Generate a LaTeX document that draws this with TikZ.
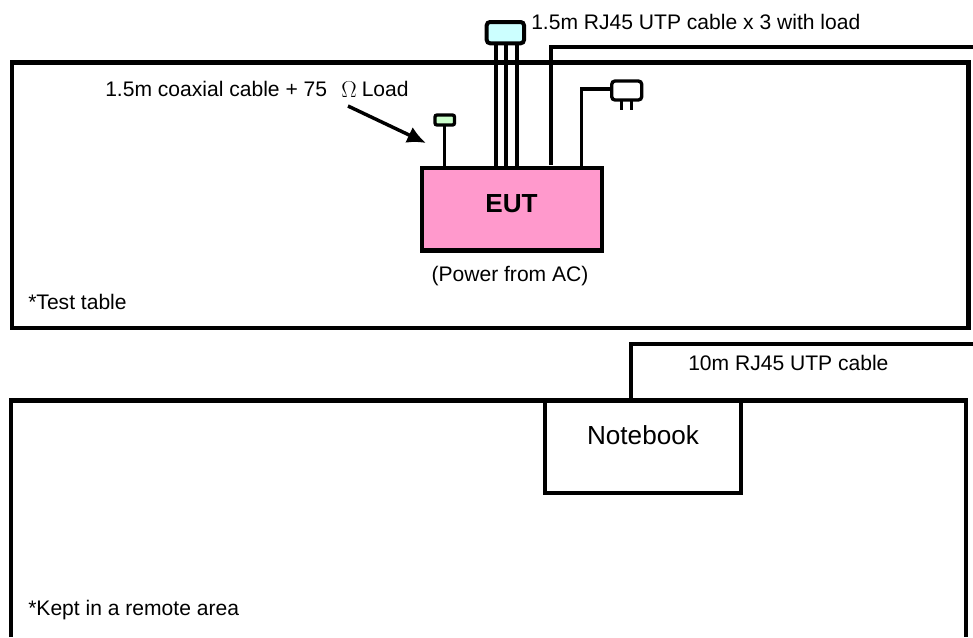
\documentclass[tikz,border=0pt]{standalone}
\usepackage{amsmath}
\usepackage{amssymb}
\usepackage{fontspec}
\setmainfont{Liberation Sans}
\usetikzlibrary{arrows.meta}
\tikzset{
  heavy/.style={line width=3.2pt, inner sep=0pt, outer sep=0pt},
  wire/.style={line width=3pt},
  thinwire/.style={line width=2.5pt},
  plugbox/.style={draw, inner sep=0pt, outer sep=0pt, anchor=north west},
  lbl/.style={inner sep=0pt, font=\fontsize{15.8pt}{18pt}\selectfont},
  biglbl/.style={inner sep=0pt, font=\fontsize{19.6pt}{22pt}\selectfont},
}
\begin{document}
\begin{tikzpicture}[x=0.75pt, y=-0.75pt]
    \useasboundingbox (0, 0) rectangle (973, 637);

    % tables
    \node[draw, heavy, minimum width=956.2pt*0.75, minimum height=265.6pt*0.75, anchor=north west] (testtable) at (12.3, 62.4) {};
    \coordinate (remotel) at (11.2, 637);
    \coordinate (remoter) at (966, 637);
    \draw[heavy] (remotel) -- (11.2, 400.5) -- (966, 400.5) -- (remoter);

    % EUT and notebook
    \node[draw, heavy, fill={rgb,255:red,255;green,153;blue,204}, minimum width=179.7pt*0.75, minimum height=82.2pt*0.75, anchor=north west] (eut) at (422, 168.3) {};
    \node[biglbl, font=\bfseries\fontsize{19.6pt}{22pt}\selectfont] (euttext) at (511.5, 204) {EUT};
    \node[draw, heavy, fill=white, minimum width=196.6pt*0.75, minimum height=92.5pt*0.75, anchor=north west] (notebook) at (544.7, 400.5) {};
    \node[biglbl] (nbtext) at (643, 435) {Notebook};

    % loads
    \node[plugbox, wire, rounded corners=2.5pt, fill={rgb,255:red,204;green,255;blue,255}, minimum width=37.3pt*0.75, minimum height=21.3pt*0.75] (hub) at (486.7, 22) {};
    \node[plugbox, thinwire, rounded corners=1.5pt, fill={rgb,255:red,204;green,255;blue,204}, minimum width=19.5pt*0.75, minimum height=10pt*0.75] (coax) at (435, 115) {};
    \node[plugbox, thinwire, rounded corners=2.5pt, fill=white, minimum width=30pt*0.75, minimum height=19pt*0.75] (plug) at (611.7, 81) {};

    % cables
    \foreach \x in {496.3, 506.3, 516.7}
      \draw[wire] (\x, 0 |- hub.south) -- (\x, 0 |- eut.north);
    \coordinate (rjend) at (550.7, 165);
    \coordinate (rjout) at (973, 46.7);
    \draw[wire] (rjend) -- (rjend |- rjout) -- (rjout);
    \coordinate (lanout) at (973, 344);
    \coordinate (lanin) at (631, 400.5);
    \draw[wire] (lanin) -- (lanin |- lanout) -- (lanout);
    \draw[thinwire] (coax.south) -- (coax.south |- eut.north);
    \coordinate (pwr) at (581.7, 89);
    \draw[thinwire] (pwr |- eut.north) -- (pwr) -- (plug.west |- pwr);
    \foreach \x in {621.7, 631.7}
      \draw[thinwire] (\x, 0 |- plug.south) -- (\x, 110);

    % labels
    \node[lbl, anchor=west] (rjtext) at (531, 22) {1.5m RJ45 UTP cable x 3 with load};
    \node[lbl, anchor=west] (coaxtext) at (105, 89) {1.5m coaxial cable + 75};
    \node[lbl, anchor=west] (loadtext) at (361.5, 89) {Load};
    \node[inner sep=0pt, font=\fontsize{19pt}{22pt}\selectfont] (ohm) at (349, 89.5) {$\Omega$};
    \coordinate (arrowstart) at (348, 106);
    \coordinate (arrowend) at (426, 143);
    \draw[line width=2.6pt, -{Latex[length=14pt, width=13pt]}] (arrowstart) -- (arrowend);
    \node[lbl] (powertext) at (510, 276) {(Power from AC)};
    \node[lbl, anchor=west] (tabletext) at (28, 302) {*Test table};
    \node[lbl, anchor=west] (utptext) at (688, 363) {10m RJ45 UTP cable};
    \node[lbl, anchor=west] (remotetext) at (28, 610.5) {*Kept in a remote area};
\end{tikzpicture}
\end{document}
